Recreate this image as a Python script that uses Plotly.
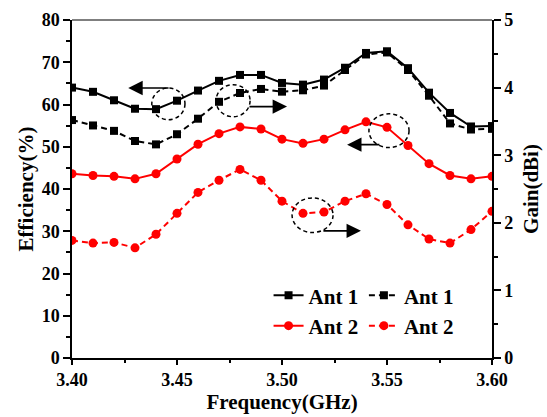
import plotly.graph_objects as go
from plotly.subplots import make_subplots

# Frequency sweep (GHz)
freq = [3.40, 3.41, 3.42, 3.43, 3.44, 3.45, 3.46, 3.47, 3.48, 3.49, 3.50,
        3.51, 3.52, 3.53, 3.54, 3.55, 3.56, 3.57, 3.58, 3.59, 3.60]

# Radiation efficiency (%)
eff_ant1 = [64.0, 63.0, 61.0, 59.0, 58.9, 60.9, 63.3, 65.6, 67.0, 67.0, 65.1,
            64.7, 65.9, 68.7, 72.2, 72.6, 68.6, 62.8, 58.0, 54.8, 54.9]
eff_ant2 = [43.6, 43.2, 43.0, 42.4, 43.6, 47.1, 50.6, 53.1, 54.7, 54.2, 51.8,
            50.8, 51.8, 54.0, 55.9, 54.6, 50.3, 46.0, 43.2, 42.4, 43.0]

# Peak gain (dBi)
gain_ant1 = [3.52, 3.44, 3.36, 3.21, 3.16, 3.31, 3.54, 3.79, 3.92, 3.98, 3.94,
             3.96, 4.03, 4.26, 4.49, 4.52, 4.26, 3.88, 3.47, 3.38, 3.39]
gain_ant2 = [1.74, 1.70, 1.71, 1.63, 1.83, 2.14, 2.45, 2.63, 2.79, 2.63, 2.32,
             2.14, 2.16, 2.32, 2.43, 2.27, 1.97, 1.76, 1.70, 1.90, 2.17]

labels = ["Ant 1", "Ant 2"]
x_ticks = [3.40, 3.45, 3.50, 3.55, 3.60]

FONT = "Liberation Serif"
DASH = "6px,4px"
BLACK = "#000000"
RED = "#ff0000"

fig = make_subplots(specs=[[{"secondary_y": True}]])

# Solid curves (efficiency) go in the first legend column,
# dashed curves (gain) in the second one.
fig.add_trace(go.Scatter(x=freq, y=eff_ant1, name=labels[0], mode="lines+markers",
                         line=dict(color=BLACK, width=2),
                         marker=dict(symbol="square", size=8, color=BLACK),
                         legend="legend"),
              secondary_y=False)
fig.add_trace(go.Scatter(x=freq, y=gain_ant1, name=labels[0], mode="lines+markers",
                         line=dict(color=BLACK, width=2, dash=DASH),
                         marker=dict(symbol="square", size=8, color=BLACK),
                         legend="legend2"),
              secondary_y=True)
fig.add_trace(go.Scatter(x=freq, y=eff_ant2, name=labels[1], mode="lines+markers",
                         line=dict(color=RED, width=2),
                         marker=dict(symbol="circle", size=9, color=RED),
                         legend="legend"),
              secondary_y=False)
fig.add_trace(go.Scatter(x=freq, y=gain_ant2, name=labels[1], mode="lines+markers",
                         line=dict(color=RED, width=2, dash=DASH),
                         marker=dict(symbol="circle", size=9, color=RED),
                         legend="legend2"),
              secondary_y=True)

# Dashed ellipses marking each curve, with arrows toward its axis
ellipses = [
    (3.4380, 56.4, 3.4538, 63.9),
    (3.4686, 57.1, 3.4848, 64.7),
    (3.5414, 49.8, 3.5605, 57.8),
    (3.5048, 29.7, 3.5243, 37.9),
]
for x0, y0, x1, y1 in ellipses:
    fig.add_shape(type="circle", xref="x", yref="y", x0=x0, y0=y0, x1=x1, y1=y1,
                  line=dict(color=BLACK, width=1.5, dash="4px,3px"))

arrows = [
    # (tail x, tip x, y)
    (3.4467, 3.4268, 63.9),
    (3.4838, 3.5024, 59.5),
    (3.5471, 3.5310, 50.5),
    (3.5190, 3.5376, 30.1),
]
for tail, tip, yy in arrows:
    fig.add_annotation(x=tip, y=yy, ax=tail, ay=yy, xref="x", yref="y",
                       axref="x", ayref="y", text="", showarrow=True,
                       arrowhead=2, arrowsize=1.8, arrowwidth=1.6,
                       arrowcolor=BLACK)

# Frame top edge
fig.add_shape(type="line", xref="paper", yref="paper", x0=0, x1=1, y0=1, y1=1,
              line=dict(color="#555555", width=1.5))

tick_font = dict(family=FONT, size=18, color=BLACK, weight="bold")
title_font = dict(family=FONT, size=21, color=BLACK, weight="bold")
legend_font = dict(family=FONT, size=21, color=BLACK, weight="bold")

fig.update_xaxes(range=[3.40, 3.60], domain=[0, 1], tickvals=x_ticks,
                 ticktext=[f"{v:.2f}" for v in x_ticks], automargin=False,
                 showline=True, linecolor=BLACK, linewidth=1.5,
                 ticks="outside", ticklen=5, tickwidth=1.5, tickcolor=BLACK,
                 minor=dict(dtick=0.025, tick0=3.40, ticks="outside", ticklen=3,
                            tickwidth=1.5, tickcolor=BLACK),
                 showgrid=False, zeroline=False, tickfont=tick_font,
                 title=dict(text="Frequency(GHz)", font=title_font, standoff=5))
fig.update_yaxes(range=[0, 80], dtick=10, tick0=0, secondary_y=False,
                 automargin=False,
                 showline=True, linecolor=BLACK, linewidth=1.5,
                 ticks="outside", ticklen=7, tickwidth=1.5, tickcolor=BLACK,
                 minor=dict(dtick=5, ticks="outside", ticklen=4,
                            tickwidth=1.5, tickcolor=BLACK),
                 showgrid=False, zeroline=False, tickfont=tick_font,
                 title=dict(text="Efficiency(%)", font=title_font, standoff=2))
fig.update_yaxes(range=[0, 5], dtick=1, tick0=0, secondary_y=True,
                 automargin=False,
                 showline=True, linecolor=BLACK, linewidth=1.5,
                 ticks="outside", ticklen=7, tickwidth=1.5, tickcolor=BLACK,
                 minor=dict(dtick=0.5, ticks="outside", ticklen=4,
                            tickwidth=1.5, tickcolor=BLACK),
                 showgrid=False, zeroline=False, tickfont=tick_font,
                 title=dict(text="Gain(dBi)", font=title_font, standoff=11))

legend_common = dict(xanchor="left", yanchor="top", orientation="v",
                     font=legend_font, bgcolor="rgba(0,0,0,0)",
                     tracegroupgap=0, itemwidth=30)

fig.update_layout(
    width=547, height=417,
    margin=dict(l=72, r=55, t=20, b=59, autoexpand=False),
    paper_bgcolor="white", plot_bgcolor="white",
    showlegend=True,
    legend=dict(x=0.468, y=0.245, **legend_common),
    legend2=dict(x=0.695, y=0.245, **legend_common),
)

fig.write_html("out.html")
